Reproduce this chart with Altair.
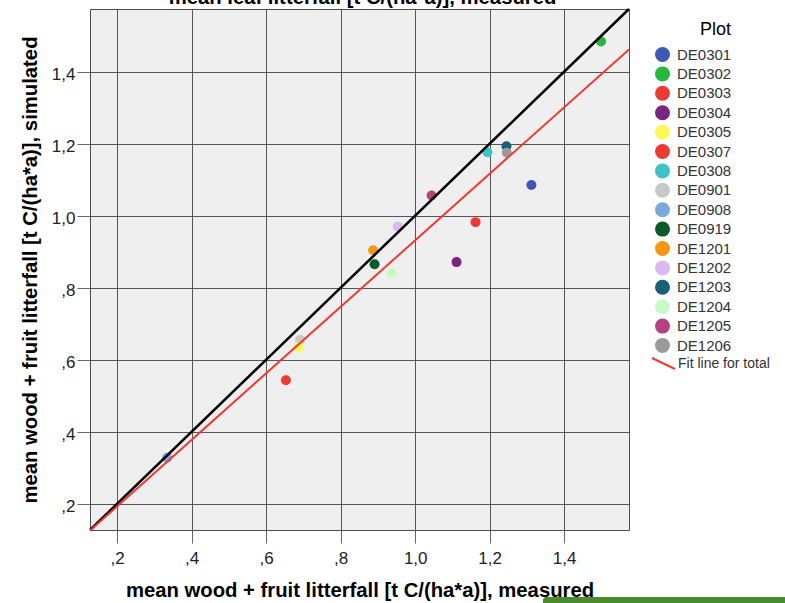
import altair as alt
import pandas as pd

FONT = "Liberation Sans"

PLOTS = ["DE0301", "DE0302", "DE0303", "DE0304", "DE0305", "DE0307", "DE0308", "DE0901",
         "DE0908", "DE0919", "DE1201", "DE1202", "DE1203", "DE1204", "DE1205", "DE1206"]
MEASURED = [1.312, 1.499, 1.162, 1.111, 0.687, 0.653, 1.194, 0.691,
            0.334, 0.891, 0.887, 0.953, 1.245, 0.937, 1.044, 1.246]
SIMULATED = [1.085, 1.484, 0.982, 0.871, 0.635, 0.543, 1.176, 0.655,
             0.328, 0.865, 0.904, 0.970, 1.193, 0.840, 1.056, 1.175]
COLORS = ["#3e58b5", "#25b83c", "#ee3a33", "#7b2482", "#fdf95a", "#ee3a33", "#3ec3c8", "#c8c8c8",
          "#79a8d9", "#0a5a2a", "#f7960f", "#dcb9f0", "#1a5e78", "#c8fac8", "#b8407e", "#9a9a9a"]

FIT_LABEL = "Fit line for total"
FIT_COLOR = "#ee3a33"
TICKS = [0.2, 0.4, 0.6, 0.8, 1.0, 1.2, 1.4]
AXIS_MIN, AXIS_MAX = 0.127, 1.574

X_TITLE = "mean wood + fruit litterfall [t C/(ha*a)], measured"
Y_TITLE = "mean wood + fruit litterfall [t C/(ha*a)], simulated"
TOP_TITLE = "mean leaf litterfall [t C/(ha*a)], measured"

W, H = 539, 521
TITLE_SIZE = 20.3

df = pd.DataFrame({"plot": PLOTS, "measured": MEASURED, "simulated": SIMULATED})
# DE0901 sits underneath DE0305
df = pd.concat([df[df["plot"] == "DE0901"], df[df["plot"] != "DE0901"]])

diag = pd.DataFrame({"measured": [AXIS_MIN, AXIS_MAX], "simulated": [AXIS_MIN, AXIS_MAX]})

label_expr = ("datum.value < 1 ? ',' + format(datum.value * 10, '.0f') "
              ": replace(format(datum.value, '.1f'), '.', ',')")

axis_common = dict(
    values=TICKS, labelExpr=label_expr, grid=True, gridColor="#555555", gridWidth=1,
    domain=False, ticks=True, tickSize=13, tickColor="#666666", tickWidth=1,
    labelFont=FONT, labelFontSize=17, labelColor="#222222",
    titleFont=FONT, titleFontSize=TITLE_SIZE, titleFontWeight="bold", titleColor="#000000",
)

x_scale = alt.Scale(domain=[AXIS_MIN, AXIS_MAX], nice=False, zero=False)
y_scale = alt.Scale(domain=[AXIS_MIN, AXIS_MAX], nice=False, zero=False)

plot_legend = alt.Legend(
    title="Plot", orient="none", legendX=565, legendY=12, padding=0,
    titleAnchor="end", titleFont=FONT, titleFontSize=18, titleFontWeight="normal",
    titleColor="#000000", titlePadding=8,
    labelFont=FONT, labelFontSize=15, labelColor="#333333", labelOffset=7,
    symbolType="circle", symbolSize=225, symbolStrokeWidth=0, symbolOpacity=1,
    rowPadding=3.4,
)

fit_legend = alt.Legend(
    title=None, orient="none", legendX=561, legendY=342, padding=0,
    labelFont=FONT, labelFontSize=14, labelColor="#333333", labelOffset=2,
    symbolType="M-1,-0.48L1,0.48", symbolSize=529, symbolStrokeWidth=2,
)

points = alt.Chart(df).mark_circle(size=100, opacity=1).encode(
    x=alt.X("measured:Q", scale=x_scale, title=X_TITLE,
            axis=alt.Axis(labelPadding=7, titlePadding=14, **axis_common)),
    y=alt.Y("simulated:Q", scale=y_scale, title=Y_TITLE,
            axis=alt.Axis(labelPadding=2, labelOffset=3, titlePadding=11, **axis_common)),
    color=alt.Color("plot:N", scale=alt.Scale(domain=PLOTS, range=COLORS),
                    legend=plot_legend),
)

identity = alt.Chart(diag).mark_line(color="#000000", strokeWidth=2.5).encode(
    x=alt.X("measured:Q", scale=x_scale),
    y=alt.Y("simulated:Q", scale=y_scale),
)

fit = alt.Chart(df).transform_regression(
    "measured", "simulated", extent=[AXIS_MIN, AXIS_MAX]
).transform_calculate(
    series=f"'{FIT_LABEL}'"
).mark_line(strokeWidth=2).encode(
    x=alt.X("measured:Q", scale=x_scale),
    y=alt.Y("simulated:Q", scale=y_scale),
    stroke=alt.Stroke("series:N", scale=alt.Scale(domain=[FIT_LABEL], range=[FIT_COLOR]),
                      legend=fit_legend),
)

top_title = alt.Chart(pd.DataFrame({"t": [TOP_TITLE]})).mark_text(
    font=FONT, fontSize=TITLE_SIZE, fontWeight="bold", align="center", baseline="alphabetic",
    color="#000000",
).encode(x=alt.value(W / 2 + 3), y=alt.value(-5), text="t:N")

green_bar = alt.Chart(pd.DataFrame({"k": [0]})).mark_rect(
    color="#4b8b30", cornerRadiusTopLeft=3
).encode(x=alt.value(453), x2=alt.value(700), y=alt.value(588), y2=alt.value(600))

chart = alt.layer(points, identity, fit, top_title, green_bar).properties(
    width=W, height=H,
    autosize=alt.AutoSizeParams(type="none"),
    padding={"left": 90, "top": 9, "right": 785 - 90 - W, "bottom": 603 - 9 - H},
    background="#ffffff",
).configure_view(
    fill="#efefef", stroke="#4d4d4d", strokeWidth=1,
)

chart.save("out.html", embed_options={"renderer": "svg", "actions": False})
